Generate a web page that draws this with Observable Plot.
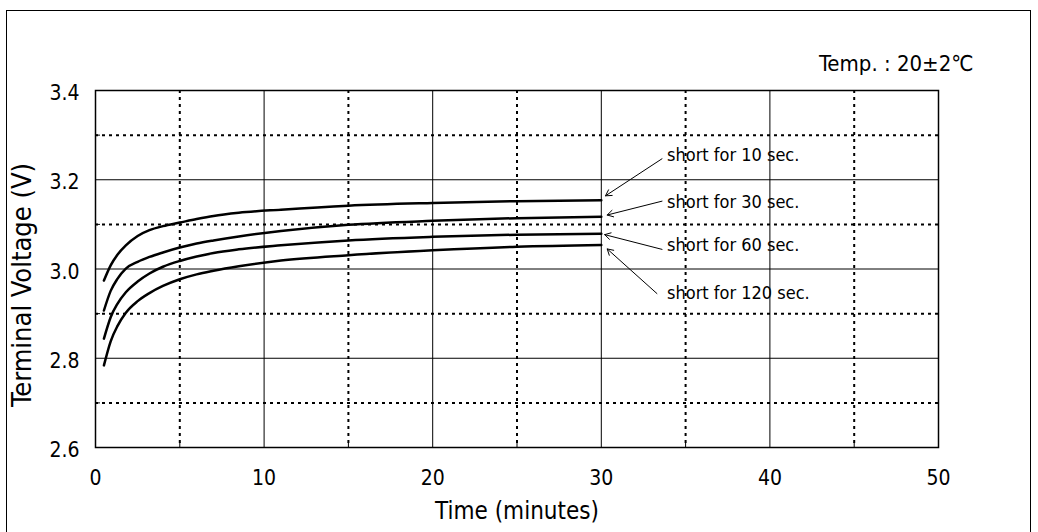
<!DOCTYPE html>
<html><head><meta charset="utf-8">
<script src="https://cdn.jsdelivr.net/npm/d3@7"></script>
<script src="https://cdn.jsdelivr.net/npm/@observablehq/plot@0.6"></script>
<style>
body{margin:0;background:#fff;}
#wrap{position:relative;width:1038px;height:532px;overflow:hidden;background:#fff;}
#border{position:absolute;left:6px;top:10px;width:1023px;height:600px;border:1.5px solid #000;}
#chart{position:absolute;left:0;top:0;}
</style></head><body><div id="wrap"><div id="border"></div><div id="chart"></div></div>
<script>
// ---- data ----
const times = [0.5, 0.9, 1.3, 1.8, 2.5, 3.2, 4, 5, 6, 7, 8.5, 11, 15, 20, 25, 30];
const series = ["short for 10 sec.", "short for 30 sec.", "short for 60 sec.", "short for 120 sec."];
const v10  = [2.974, 3.008, 3.032, 3.053, 3.074, 3.087, 3.096, 3.104, 3.112, 3.119, 3.126, 3.133, 3.142, 3.148, 3.152, 3.154];
const v30  = [2.907, 2.951, 2.978, 3.001, 3.016, 3.027, 3.037, 3.048, 3.057, 3.064, 3.073, 3.085, 3.099, 3.108, 3.114, 3.117];
const v60  = [2.844, 2.892, 2.922, 2.948, 2.972, 2.990, 3.005, 3.018, 3.028, 3.036, 3.044, 3.053, 3.064, 3.072, 3.077, 3.079];
const v120 = [2.784, 2.838, 2.872, 2.902, 2.928, 2.946, 2.962, 2.977, 2.988, 2.996, 3.006, 3.019, 3.031, 3.042, 3.050, 3.054];
const seriesValues = [v10, v30, v60, v120];

const xMajor = [0, 10, 20, 30, 40, 50];
const xMinor = [5, 15, 25, 35, 45];
const yMajor = [2.6, 2.8, 3.0, 3.2, 3.4];
const yMinor = [2.7, 2.9, 3.1, 3.3];

// annotation label anchors (data coords) and arrow tails/tips
const labelX = [33.9, 33.9, 33.9, 33.9];
const labelY = [3.254, 3.149, 3.053, 2.945];
const arrowX1 = [33.6, 33.6, 33.6, 33.3];
const arrowY1 = [3.247, 3.152, 3.044, 2.945];
const arrowX2 = [30.25, 30.35, 30.2, 30.35];
const arrowY2 = [3.164, 3.121, 3.077, 3.045];

const xTitle = "Time (minutes)";
const yTitle = "Terminal Voltage (V)";
const tempLabel = "Temp. : 20±2℃";

// ---- build tables ----
const lineData = series.flatMap((s, i) => times.map((t, j) => ({series: s, t, v: seriesValues[i][j]})));
const labels = series.map((s, i) => ({text: s, x: labelX[i], y: labelY[i]}));
const arrows = series.map((s, i) => ({x1: arrowX1[i], y1: arrowY1[i], x2: arrowX2[i], y2: arrowY2[i]}));

const font = '"DejaVu Sans Condensed", "DejaVu Sans", sans-serif';

const chart = Plot.plot({
  width: 1038,
  height: 532,
  marginLeft: 95,
  marginRight: 100,
  marginTop: 90,
  marginBottom: 85,
  style: {fontFamily: font, fontStretch: "condensed", background: "transparent", color: "#000"},
  x: {domain: [0, 50]},
  y: {domain: [2.6, 3.4]},
  marks: [
    Plot.ruleX(xMinor, {stroke: "#000", strokeWidth: 2, strokeDasharray: "3,4"}),
    Plot.ruleY(yMinor, {stroke: "#000", strokeWidth: 2, strokeDasharray: "3,4"}),
    Plot.ruleX(xMajor, {stroke: "#000", strokeWidth: 1}),
    Plot.ruleY(yMajor, {stroke: "#000", strokeWidth: 1}),
    Plot.frame({stroke: "#000", strokeWidth: 1.5}),
    Plot.axisX({ticks: xMajor, tickSize: 0, tickPadding: 23, fontSize: 21, label: null, tickFormat: d3.format("d")}),
    Plot.axisX({ticks: xMinor, tickSize: -5, text: null, label: null}),
    Plot.axisY({ticks: yMajor, tickSize: 0, tickPadding: 16, fontSize: 21, label: null, tickFormat: d3.format(".1f"), dy: 3}),
    Plot.axisY({ticks: yMinor, tickSize: -5, text: null, label: null}),
    Plot.line(lineData, {x: "t", y: "v", z: "series", curve: "monotone-x", stroke: "#000", strokeWidth: 2.5}),
    Plot.arrow(arrows, {x1: "x1", y1: "y1", x2: "x2", y2: "y2", stroke: "#000", strokeWidth: 1, headLength: 10, bend: false}),
    Plot.text(labels, {x: "x", y: "y", text: "text", textAnchor: "start", fontSize: 18, fill: "#000"}),
    Plot.text([xTitle], {frameAnchor: "bottom", text: d => d, dy: 71, fontSize: 24, fill: "#000"}),
    Plot.text([yTitle], {frameAnchor: "left", text: d => d, textAnchor: "middle", rotate: -90, dx: -73, dy: 16, fontSize: 27, fill: "#000"}),
    Plot.text([tempLabel], {frameAnchor: "top-right", text: d => d, textAnchor: "end", dx: 35, dy: -35, fontSize: 22, fill: "#000"})
  ]
});
document.getElementById("chart").appendChild(chart);
</script>
</body></html>
